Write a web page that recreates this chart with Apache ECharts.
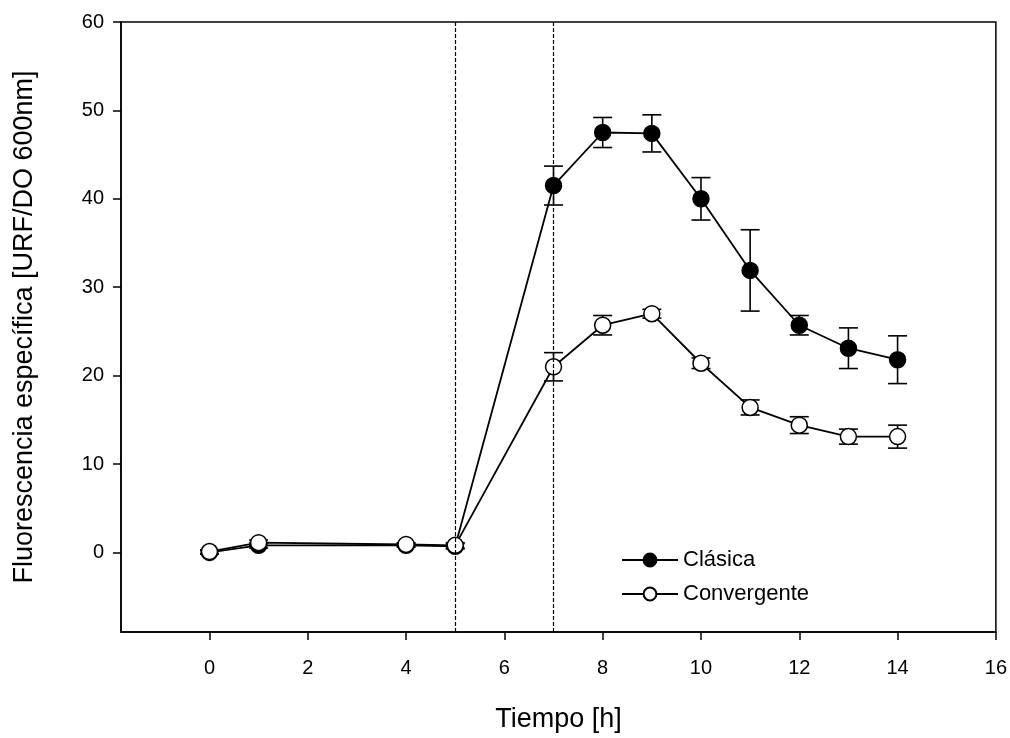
<!DOCTYPE html>
<html>
<head>
<meta charset="utf-8">
<script src="https://cdn.jsdelivr.net/npm/echarts@6/dist/echarts.min.js"></script>
<style>
  html, body { margin: 0; padding: 0; background: #fff; }
  #chart { width: 1010px; height: 738px; }
</style>
</head>
<body>
<div id="chart"></div>
<script>
// Sampling times (h)
const tiempo = [0, 1, 4, 5, 7, 8, 9, 10, 11, 12, 13, 14];
// Specific fluorescence, mean and standard deviation
const clasica = [0.0, 0.8, 0.8, 0.7, 41.5, 47.5, 47.4, 40.0, 31.9, 25.7, 23.1, 21.8];
const clasicaErr = [0.2, 0.3, 0.2, 0.3, 2.2, 1.7, 2.1, 2.4, 4.6, 1.1, 2.3, 2.7];
const convergente = [0.1, 1.1, 0.9, 0.8, 21.0, 25.7, 27.0, 21.4, 16.4, 14.4, 13.1, 13.1];
const convergenteErr = [0.2, 0.3, 0.2, 0.3, 1.6, 1.1, 0.5, 0.6, 0.85, 0.95, 0.85, 1.3];
// Tick values and phase markers
const xTicks = [0, 2, 4, 6, 8, 10, 12, 14, 16];
const yTicks = [0, 10, 20, 30, 40, 50, 60];
const phaseLines = [5, 7];

const FONT = '"Liberation Sans", Arial, sans-serif';

function pairs(ys) { return tiempo.map((t, i) => [t, ys[i]]); }
function bars(ys, es) { return tiempo.map((t, i) => [t, ys[i] - es[i], ys[i] + es[i]]); }

function renderErr(params, api) {
  const x = api.value(0);
  const lo = api.coord([x, api.value(1)]);
  const hi = api.coord([x, api.value(2)]);
  const hw = 9.5;
  const style = { stroke: '#000', lineWidth: 1.6, fill: null };
  return {
    type: 'group',
    children: [
      { type: 'line', shape: { x1: lo[0], y1: lo[1], x2: hi[0], y2: hi[1] }, style },
      { type: 'line', shape: { x1: hi[0] - hw, y1: hi[1], x2: hi[0] + hw, y2: hi[1] }, style },
      { type: 'line', shape: { x1: lo[0] - hw, y1: lo[1], x2: lo[0] + hw, y2: lo[1] }, style }
    ]
  };
}

const chart = echarts.init(document.getElementById('chart'), null, { renderer: 'canvas' });

chart.setOption({
  animation: false,
  backgroundColor: '#fff',
  grid: {
    left: 121, right: 14, top: 22, bottom: 105,
    show: true, borderColor: '#000', borderWidth: 1.5, backgroundColor: 'transparent'
  },
  legend: {
    orient: 'vertical',
    left: 616, top: 544,
    itemWidth: 56, itemHeight: 16, itemGap: 12,
    data: ['Clásica', 'Convergente'],
    textStyle: { fontFamily: FONT, fontSize: 22, color: '#000' },
    selectedMode: false
  },
  xAxis: {
    type: 'value', min: -1.8, max: 16,
    name: 'Tiempo [h]', nameLocation: 'middle', nameGap: 74,
    nameTextStyle: { fontFamily: FONT, fontSize: 27, color: '#000' },
    axisLine: { show: true, onZero: false, lineStyle: { color: '#000', width: 1.5 } },
    axisTick: { show: true, inside: false, length: 8, customValues: xTicks, lineStyle: { color: '#000', width: 1.5 } },
    axisLabel: { customValues: xTicks, margin: 26, fontFamily: FONT, fontSize: 20, color: '#000' },
    splitLine: { show: false }
  },
  yAxis: {
    type: 'value', min: -9, max: 60,
    name: 'Fluorescencia específica [URF/DO 600nm]', nameLocation: 'middle', nameGap: 83,
    nameTextStyle: { fontFamily: FONT, fontSize: 27, color: '#000' },
    axisLine: { show: true, onZero: false, lineStyle: { color: '#000', width: 1.5 } },
    axisTick: { show: true, inside: false, length: 8, customValues: yTicks, lineStyle: { color: '#000', width: 1.5 } },
    axisLabel: { customValues: yTicks, margin: 17, fontFamily: FONT, fontSize: 20, color: '#000' },
    splitLine: { show: false }
  },
  series: [
    {
      type: 'custom', name: 'errClasica', renderItem: renderErr,
      data: bars(clasica, clasicaErr), z: 1, silent: true,
      encode: { x: 0, y: [1, 2] },
      markLine: {
        silent: true, symbol: 'none', label: { show: false },
        lineStyle: { color: '#000', type: [4, 2], width: 1.2 },
        data: phaseLines.map(v => ({ xAxis: v }))
      }
    },
    {
      type: 'custom', name: 'errConvergente', renderItem: renderErr,
      data: bars(convergente, convergenteErr), z: 1, silent: true,
      encode: { x: 0, y: [1, 2] }
    },
    {
      type: 'line', name: 'Clásica', data: pairs(clasica), z: 3,
      symbol: 'circle', symbolSize: 16,
      lineStyle: { color: '#000', width: 1.8 },
      itemStyle: { color: '#000', borderColor: '#000', borderWidth: 1.5 }
    },
    {
      type: 'line', name: 'Convergente', data: pairs(convergente), z: 4,
      symbol: 'circle', symbolSize: 16,
      lineStyle: { color: '#000', width: 1.8 },
      itemStyle: { color: '#fff', borderColor: '#000', borderWidth: 1.5 }
    }
  ]
});
</script>
</body>
</html>
